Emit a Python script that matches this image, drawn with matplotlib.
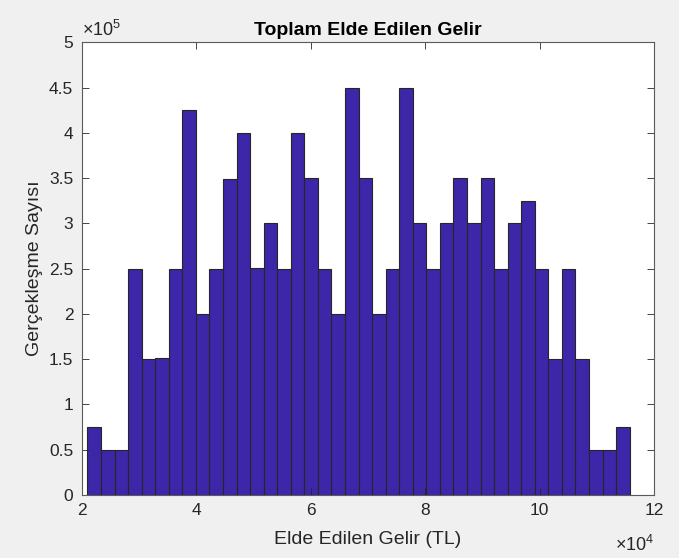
import matplotlib.pyplot as plt
import numpy as np
from matplotlib.ticker import FuncFormatter, MultipleLocator

plt.rcParams['font.family'] = ['Liberation Sans', 'DejaVu Sans']
plt.rcParams['mathtext.fontset'] = 'custom'
plt.rcParams['mathtext.rm'] = 'Liberation Sans'

# histogram data: 40 equal bins between bin_start and bin_end (TL)
bin_start = 2.10e4
bin_end = 11.57e4
counts = [0.75, 0.5, 0.5, 2.5, 1.5, 1.51, 2.5, 4.25, 2.0, 2.5,
          3.49, 4.0, 2.51, 3.0, 2.5, 4.0, 3.5, 2.5, 2.0, 4.49,
          3.5, 2.0, 2.5, 4.5, 3.0, 2.5, 3.0, 3.5, 3.0, 3.5,
          2.5, 3.0, 3.25, 2.5, 1.5, 2.5, 1.5, 0.5, 0.5, 0.75]
counts = np.array(counts) * 1e5
edges = np.linspace(bin_start, bin_end, len(counts) + 1)

title = 'Toplam Elde Edilen Gelir'
xlabel = 'Elde Edilen Gelir (TL)'
ylabel = 'Gerçekleşme Sayısı'

fig = plt.figure(figsize=(6.79, 5.58), dpi=100, facecolor='#f0f0f0')
ax = fig.add_axes([0.1203, 0.1129, 0.8433, 0.8113])
ax.set_facecolor('white')

ax.bar(edges[:-1], counts, width=np.diff(edges), align='edge',
       color='#3e26a8', edgecolor='#262626', linewidth=0.8)

ax.set_xlim(2e4, 12e4)
ax.set_ylim(0, 5e5)
ax.xaxis.set_major_locator(MultipleLocator(2e4))
ax.yaxis.set_major_locator(MultipleLocator(0.5e5))
ax.xaxis.set_major_formatter(FuncFormatter(lambda v, p: f'{v / 1e4:g}'))
ax.yaxis.set_major_formatter(FuncFormatter(lambda v, p: f'{v / 1e5:g}'))

grey = '#262626'
ax.tick_params(direction='in', length=5, width=0.6, colors=grey,
               labelsize=12.5, top=True, right=True, pad=6)
for s in ax.spines.values():
    s.set_color('#5a5a5a')
    s.set_linewidth(0.8)

ax.set_title(title, fontsize=14, fontweight='bold', color='black', pad=5)
ax.set_xlabel(xlabel, fontsize=14, color=grey, labelpad=9)
ax.set_ylabel(ylabel, fontsize=14, color=grey, labelpad=4)

ax.text(0.0, 1.006, '×10$^{5}$', transform=ax.transAxes,
        ha='left', va='bottom', fontsize=13, color=grey)
ax.text(1.0, -0.088, '×10$^{4}$', transform=ax.transAxes,
        ha='right', va='top', fontsize=13, color=grey)

fig.savefig('out.png', dpi=100, facecolor=fig.get_facecolor())
